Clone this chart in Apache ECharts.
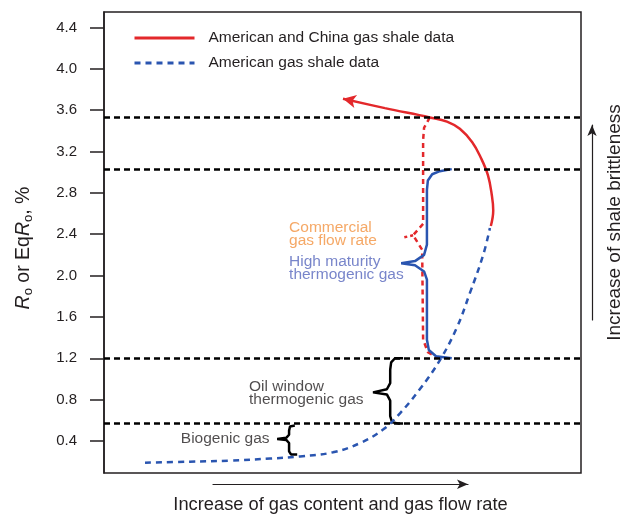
<!DOCTYPE html>
<html>
<head>
<meta charset="utf-8">
<script src="https://cdn.jsdelivr.net/npm/echarts@6/dist/echarts.min.js"></script>
<style>
  html, body { margin: 0; padding: 0; background: #fff; }
  #chart { width: 625px; height: 515px; }
</style>
</head>
<body>
<div id="chart"></div>
<script>
// y ticks (Ro %)
const yTicks = [0.4, 0.8, 1.2, 1.6, 2.0, 2.4, 2.8, 3.2, 3.6, 4.0, 4.4]
// maturity boundaries (dashed black lines)
const boundaries = [3.53, 3.03, 1.2, 0.57]

// x: relative gas content / flow rate (0-100), y: Ro %
const redSolid = [[50.1, 3.71], [58.9, 3.62], [68.3, 3.53], [71.9, 3.49], [74.6, 3.42], [77.2, 3.29], [79.0, 3.14], [80.5, 2.97], [81.3, 2.78], [81.6, 2.63], [81.1, 2.48]]
const blueDashed = [[8.6, 0.19], [18.0, 0.20], [26.4, 0.21], [34.8, 0.23], [41.1, 0.25], [48.0, 0.29], [53.7, 0.38], [58.5, 0.51], [62.1, 0.67], [66.2, 0.90], [70.4, 1.18], [74.0, 1.50], [76.7, 1.83], [79.5, 2.20], [80.9, 2.46]]
const redDotted = [[68.3, 3.53], [67.1, 3.43], [66.9, 3.31], [66.9, 2.50], [64.8, 2.39], [66.7, 2.25], [66.9, 1.38], [67.9, 1.26], [70.0, 1.20]]
const redDottedStub = [[64.8, 2.39], [62.9, 2.37]]

// braces
const braceHigh = [[72.9, 3.03], [70.4, 3.01], [68.8, 2.98], [67.9, 2.92], [67.7, 2.83], [67.7, 2.30], [67.1, 2.20], [65.2, 2.14], [62.3, 2.12], [65.2, 2.10], [67.1, 2.04], [67.7, 1.96], [67.7, 1.38], [68.1, 1.28], [69.6, 1.22], [72.9, 1.20]]
const braceOil = [[62.7, 1.20], [61.0, 1.20], [60.2, 1.16], [60.0, 1.09], [60.0, 0.96], [59.3, 0.90], [56.4, 0.87], [59.3, 0.85], [60.0, 0.79], [60.0, 0.64], [60.4, 0.58], [61.6, 0.57], [62.7, 0.57]]
const braceBio = [[40.0, 0.55], [39.0, 0.54], [38.8, 0.50], [38.8, 0.46], [38.2, 0.43], [36.3, 0.42], [38.2, 0.41], [38.8, 0.38], [38.8, 0.30], [39.2, 0.27], [40.5, 0.27]]

// annotations
const noteTexts = ['Commercial\ngas flow rate', 'High maturity\nthermogenic gas', 'Oil window\nthermogenic gas', 'Biogenic gas']
const notePos = [[38.8, 2.40], [38.8, 2.07], [30.4, 0.86], [16.1, 0.42]]
const noteColors = ['#f39240', '#5666bd', '#231f20', '#231f20']

const RED = '#e3282b'
const BLUE = '#2a55b0'
const INK = '#231f20'
const FONT = 'Liberation Sans, Arial, sans-serif'

const chart = echarts.init(document.getElementById('chart'))

const redData = redSolid.map((p, i) => i === 0
  ? { value: p, symbol: 'arrow', symbolSize: [10, 13], symbolRotate: 78 }
  : { value: p, symbol: 'none' })

chart.setOption({
  animation: false,
  textStyle: { fontFamily: FONT },
  legend: {
    data: ['American and China gas shale data', 'American gas shale data'],
    orient: 'vertical',
    left: 133,
    top: 30,
    padding: 0,
    itemWidth: 60,
    itemHeight: 14,
    itemGap: 9,
    itemStyle: { opacity: 0 },
    lineStyle: { width: 3 },
    textStyle: { fontSize: 15.5, color: INK, fontFamily: FONT, padding: [0, 0, 0, 9] },
  },
  grid: [
    { left: 104, top: 12, right: 44, bottom: 42, show: true, borderColor: INK, borderWidth: 1.5 },
    { left: 213, right: 157, top: 484, bottom: 30 },
    { left: 592, right: 32, top: 125, bottom: 195 },
  ],
  xAxis: [
    {
      type: 'value', min: 0, max: 100, gridIndex: 0,
      axisLine: { show: false }, axisTick: { show: false }, axisLabel: { show: false }, splitLine: { show: false },
    },
    {
      type: 'value', min: 0, max: 1, gridIndex: 1,
      name: 'Increase of gas content and gas flow rate',
      nameLocation: 'middle', nameGap: 12,
      nameTextStyle: { fontSize: 18.3, color: INK, fontFamily: FONT },
      axisLine: { show: true, symbol: ['none', 'arrow'], symbolSize: [7, 11], lineStyle: { color: INK, width: 1.2 } },
      axisTick: { show: false }, axisLabel: { show: false }, splitLine: { show: false },
    },
    {
      type: 'value', min: 0, max: 1, gridIndex: 2, show: false,
    },
  ],
  yAxis: [
    {
      type: 'value', min: 0.09, max: 4.55, gridIndex: 0,
      name: '{i|R}{s|o} or Eq{i|R}{s|o}, %',
      nameLocation: 'middle', nameRotate: 90, nameGap: 69,
      nameTextStyle: {
        fontSize: 19.5, color: INK, fontFamily: FONT, padding: [0, 11, 0, 0],
        rich: {
          i: { fontSize: 19.5, fontStyle: 'italic', color: INK, fontFamily: FONT },
          s: { fontSize: 13, color: INK, fontFamily: FONT, padding: [10, 0, 0, 0] },
        },
      },
      axisLine: { show: true, lineStyle: { color: INK, width: 1.5 } },
      axisTick: { show: true, length: 14, customValues: yTicks, lineStyle: { color: INK, width: 1.5 } },
      axisLabel: { customValues: yTicks, margin: 27, fontSize: 15, color: INK, fontFamily: FONT, formatter: (v) => v.toFixed(1) },
      splitLine: { show: false },
    },
    {
      type: 'value', min: 0, max: 1, gridIndex: 1, show: false,
    },
    {
      type: 'value', min: 0, max: 1, gridIndex: 2, position: 'right',
      name: 'Increase of shale brittleness',
      nameLocation: 'middle', nameRotate: 90, nameGap: 12,
      nameTextStyle: { fontSize: 19, color: INK, fontFamily: FONT },
      axisLine: { show: true, symbol: ['none', 'arrow'], symbolSize: [7, 11], lineStyle: { color: INK, width: 1.2 } },
      axisTick: { show: false }, axisLabel: { show: false }, splitLine: { show: false },
    },
  ],
  series: [
    {
      name: 'boundaries', type: 'line', data: [], silent: true,
      markLine: {
        symbol: 'none', silent: true, label: { show: false },
        lineStyle: { color: '#000', type: [6, 4], width: 2.5 },
        data: boundaries.map((v) => ({ yAxis: v })),
      },
    },
    {
      name: 'Commercial gas flow rate', type: 'line', data: redDotted, symbol: 'none',
      lineStyle: { color: RED, width: 2.5, type: [5, 4] },
    },
    {
      name: 'stub', type: 'line', data: redDottedStub, symbol: 'none',
      lineStyle: { color: RED, width: 2.5, type: [3, 3] },
    },
    {
      name: 'High maturity', type: 'line', data: braceHigh, symbol: 'none',
      lineStyle: { color: BLUE, width: 2.5 },
    },
    {
      name: 'Oil window', type: 'line', data: braceOil, symbol: 'none',
      lineStyle: { color: '#000', width: 2.5 },
    },
    {
      name: 'Biogenic', type: 'line', data: braceBio, symbol: 'none',
      lineStyle: { color: '#000', width: 2.5 },
    },
    {
      name: 'American gas shale data', type: 'line', data: blueDashed, symbol: 'none', smooth: 0.4,
      lineStyle: { color: BLUE, width: 2.5, type: [6, 5] }, itemStyle: { color: BLUE },
    },
    {
      name: 'American and China gas shale data', type: 'line', data: redData, symbol: 'none', smooth: 0.4,
      showAllSymbol: true,
      lineStyle: { color: RED, width: 2.5 }, itemStyle: { color: RED },
    },
    {
      name: 'notes', type: 'scatter', symbolSize: 0, silent: true,
      data: notePos.map((p, i) => ({
        value: p,
        label: { show: true, position: 'right', distance: 0, formatter: noteTexts[i], color: noteColors[i], fontSize: 15.5, lineHeight: 13.5, fontFamily: FONT },
      })),
    },
  ],
})
</script>
</body>
</html>
